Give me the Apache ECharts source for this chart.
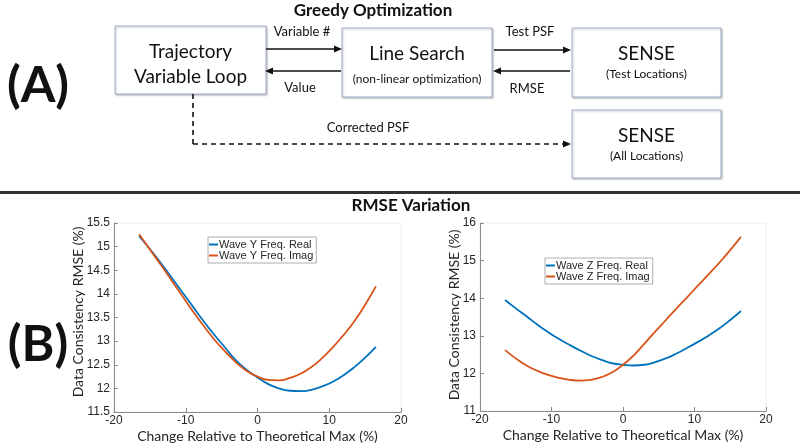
<!DOCTYPE html>
<html>
<head>
<meta charset="utf-8">
<script src="https://cdn.jsdelivr.net/npm/echarts@6/dist/echarts.min.js"></script>
<style>
html,body{margin:0;padding:0;background:#fff;}
#chart{width:800px;height:445px;}
</style>
</head>
<body>
<div id="chart"></div>
<script>
// ---- data ----
const xVals = [-16.5,-15,-13.5,-12,-10.5,-9,-7.5,-6,-4.5,-3,-1.5,0,1.5,3,4.5,6,7.5,9,10.5,12,13.5,15,16.5];
const waveYReal = [15.22,14.95,14.66,14.35,14.04,13.73,13.42,13.13,12.86,12.59,12.39,12.23,12.09,12.00,11.95,11.94,11.97,12.04,12.14,12.28,12.45,12.65,12.88];
const waveYImag = [15.26,14.94,14.62,14.29,13.96,13.63,13.32,13.03,12.78,12.55,12.37,12.25,12.18,12.17,12.22,12.31,12.45,12.64,12.87,13.13,13.42,13.77,14.16];
const waveZReal = [13.95,13.73,13.52,13.30,13.10,12.92,12.76,12.61,12.47,12.36,12.27,12.23,12.21,12.23,12.30,12.40,12.53,12.68,12.84,13.01,13.20,13.42,13.66];
const waveZImag = [12.62,12.40,12.21,12.07,11.96,11.88,11.83,11.81,11.83,11.90,12.03,12.23,12.48,12.79,13.11,13.42,13.73,14.03,14.34,14.64,14.95,15.28,15.63];
const seriesNames = ['Wave Y Freq. Real','Wave Y Freq. Imag','Wave Z Freq. Real','Wave Z Freq. Imag'];
const xAxisTitle = 'Change Relative to Theoretical Max (%)';
const yAxisTitle = 'Data Consistency RMSE (%)';
const xTicks = {min:-20, max:20, interval:10};
const yLeftTicks = {min:11.5, max:15.5, interval:0.5};
const yRightTicks = {min:11, max:16, interval:1};

const BLUE = '#0072BD', ORANGE = '#D95319';
const FONT = 'Lato, "Open Sans", sans-serif';
const AXFONT = '"Liberation Sans", Arial, sans-serif';

function pairs(ys){ return xVals.map((x,i)=>[x, ys[i]]); }

// ---- diagram helpers ----
const g = [];
function box(x,y,w,h){
  g.push({type:'rect', shape:{x:x,y:y,width:w,height:h},
    style:{fill:'#fff', stroke:'#9fb1c9', lineWidth:1, shadowBlur:2, shadowColor:'rgba(0,0,0,0.25)', shadowOffsetX:1, shadowOffsetY:1}});
}
function txt(s,x,y,size,bold,rot,color){
  g.push({type:'text', x:x, y:y, rotation:rot||0, style:{text:s, fontSize:size, fontWeight:bold?'bold':'normal', fontFamily:FONT, fill:color||'#111', align:'center', verticalAlign:'middle'}});
}
function arrow(x1,y1,x2,y2,dashed){
  g.push({type:'line', shape:{x1:x1,y1:y1,x2:x2,y2:y2}, style:{stroke:'#111', lineWidth:1.6, lineDash: dashed?[5,4]:null}});
  const dx = Math.sign(x2-x1), dy = Math.sign(y2-y1);
  if (dy===0){
    g.push({type:'polygon', shape:{points:[[x2+dx*2,y2],[x2-dx*6,y2-3.5],[x2-dx*6,y2+3.5]]}, style:{fill:'#111'}});
  }
}
function seg(x1,y1,x2,y2,dashed){
  g.push({type:'line', shape:{x1:x1,y1:y1,x2:x2,y2:y2}, style:{stroke:'#111', lineWidth:1.6, lineDash: dashed?[5,4]:null}});
}

// Title A
txt('Greedy Optimization', 373, 11, 17, true);
txt('(A)', 38, 86, 50, true);
box(115,26,151,68);
txt('Trajectory', 190.5, 52, 19);
txt('Variable Loop', 190.5, 77, 19);
box(342,28,150,69);
txt('Line Search', 417, 54, 19);
txt('(non-linear optimization)', 417, 79, 12);
box(572,28,149,69);
txt('SENSE', 646.5, 54, 19);
txt('(Test Locations)', 646.5, 74, 12);
box(572,110,149,68);
txt('SENSE', 646.5, 136, 19);
txt('(All Locations)', 646.5, 156, 12);
arrow(266,49,340,49);
arrow(341,71,267,71);
txt('Variable #', 302, 32, 13);
txt('Value', 300, 88, 13);
arrow(494,50,569,50);
arrow(570,71,495,71);
txt('Test PSF', 530, 32, 13);
txt('RMSE', 527, 89, 13);
seg(193,94,193,144,true);
arrow(193,144,569,144,true);
txt('Corrected PSF', 368, 128, 13);
// separator
g.push({type:'rect', shape:{x:0,y:191,width:800,height:3}, style:{fill:'#333'}});
// Title B
txt('RMSE Variation', 411, 206, 17, true);
txt('(B)', 38, 345, 50, true);
// y axis titles (rotated text)
txt(yAxisTitle, 78, 312, 14, false, Math.PI/2, '#262626');
txt(yAxisTitle, 454, 315, 14, false, Math.PI/2, '#262626');

const axisCommon = {
  axisLine:{show:true, onZero:false, lineStyle:{color:'#8a8a8a', width:1}},
  axisTick:{show:true, inside:true, length:4, lineStyle:{color:'#8a8a8a'}},
  axisLabel:{color:'#262626', fontSize:12, fontFamily:AXFONT},
  splitLine:{show:false},
  nameTextStyle:{color:'#262626', fontSize:14, fontFamily:FONT}
};
function xAx(gi){
  return Object.assign({}, axisCommon, {type:'value', gridIndex:gi, min:xTicks.min, max:xTicks.max, interval:xTicks.interval,
    name:xAxisTitle, nameLocation:'middle', nameGap:17,
    axisLabel:Object.assign({}, axisCommon.axisLabel, {margin:3})});
}
function yAx(gi, t){
  return Object.assign({}, axisCommon, {type:'value', gridIndex:gi, min:t.min, max:t.max, interval:t.interval,
    axisLabel:Object.assign({}, axisCommon.axisLabel, {margin:4})});
}
const legendCommon = {
  orient:'vertical', itemGap:0, itemWidth:9, itemHeight:2, icon:'rect',
  backgroundColor:'#fff', borderColor:'#999', borderWidth:0.8, padding:[2,3,2,1], borderRadius:0,
  textStyle:{fontSize:11, color:'#262626', fontFamily:AXFONT, padding:[0,0,0,-4]}
};

const chart = echarts.init(document.getElementById('chart'), null, {renderer:'canvas'});
chart.setOption({
  animation:false,
  backgroundColor:'#fff',
  grid:[
    {left:114, top:223, width:287, height:189, show:true, borderColor:'#eeeeee', borderWidth:1, backgroundColor:'transparent'},
    {left:480, top:223, width:286, height:188, show:true, borderColor:'#eeeeee', borderWidth:1, backgroundColor:'transparent'}
  ],
  xAxis:[xAx(0), xAx(1)],
  yAxis:[yAx(0, yLeftTicks), yAx(1, yRightTicks)],
  legend:[
    Object.assign({}, legendCommon, {data:[seriesNames[0], seriesNames[1]], left:208, top:237}),
    Object.assign({}, legendCommon, {data:[seriesNames[2], seriesNames[3]], left:545, top:258})
  ],
  series:[
    {name:seriesNames[0], type:'line', xAxisIndex:0, yAxisIndex:0, data:pairs(waveYReal), smooth:true, showSymbol:false, lineStyle:{color:BLUE, width:1.8}, itemStyle:{color:BLUE}},
    {name:seriesNames[1], type:'line', xAxisIndex:0, yAxisIndex:0, data:pairs(waveYImag), smooth:true, showSymbol:false, lineStyle:{color:ORANGE, width:1.8}, itemStyle:{color:ORANGE}},
    {name:seriesNames[2], type:'line', xAxisIndex:1, yAxisIndex:1, data:pairs(waveZReal), smooth:true, showSymbol:false, lineStyle:{color:BLUE, width:1.8}, itemStyle:{color:BLUE}},
    {name:seriesNames[3], type:'line', xAxisIndex:1, yAxisIndex:1, data:pairs(waveZImag), smooth:true, showSymbol:false, lineStyle:{color:ORANGE, width:1.8}, itemStyle:{color:ORANGE}}
  ],
  graphic:g
});
</script>
</body>
</html>
